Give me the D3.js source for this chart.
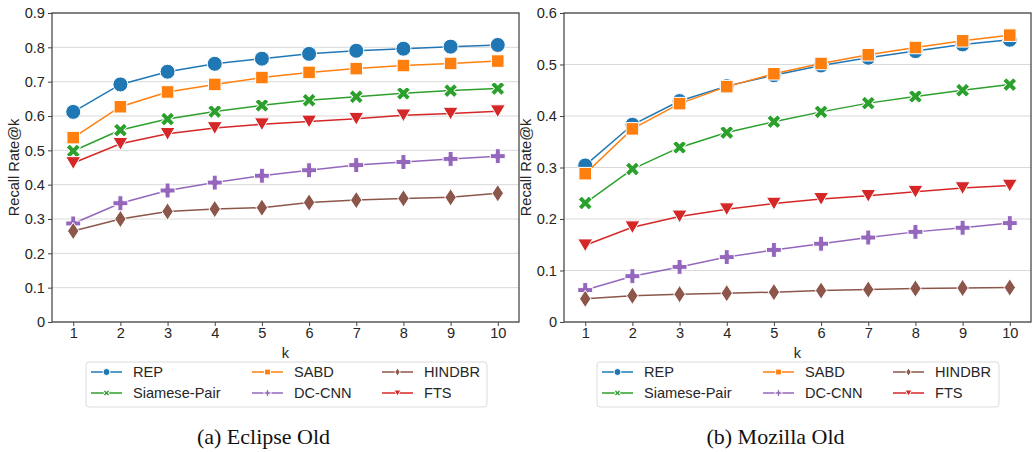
<!DOCTYPE html>
<html>
<head>
<meta charset="utf-8">
<script src="https://cdn.jsdelivr.net/npm/d3@7"></script>
<style>
  body { margin: 0; background: white; }
  svg { display: block; }
  .tick text { font-family: "Liberation Sans", Arial, sans-serif; font-size: 14.6px; fill: #262626; }
</style>
</head>
<body>
<svg id="chart" width="1032" height="452"></svg>
<script>
// k values on x axis
var kValues = [1, 2, 3, 4, 5, 6, 7, 8, 9, 10];

// legend order (column-major, 2 rows)
var seriesNames = ["REP", "Siamese-Pair", "SABD", "DC-CNN", "HINDBR", "FTS"];
var seriesColors = ["#1f77b4", "#2ca02c", "#ff7f0e", "#9467bd", "#8c564b", "#d62728"];
var seriesMarkers = ["circle", "x", "square", "plus", "thindiamond", "tridown"];

// Eclipse Old
var eclipseREP = [0.612, 0.692, 0.729, 0.752, 0.767, 0.781, 0.790, 0.796, 0.802, 0.807];
var eclipseSiamese = [0.498, 0.559, 0.591, 0.613, 0.631, 0.646, 0.656, 0.666, 0.674, 0.680];
var eclipseSABD = [0.537, 0.627, 0.670, 0.692, 0.712, 0.727, 0.738, 0.747, 0.753, 0.760];
var eclipseDCCNN = [0.287, 0.346, 0.383, 0.406, 0.426, 0.442, 0.457, 0.466, 0.475, 0.483];
var eclipseHINDBR = [0.265, 0.300, 0.322, 0.329, 0.333, 0.348, 0.355, 0.360, 0.363, 0.375];
var eclipseFTS = [0.463, 0.519, 0.548, 0.565, 0.576, 0.584, 0.592, 0.602, 0.607, 0.614];

// Mozilla Old
var mozillaREP = [0.304, 0.383, 0.429, 0.458, 0.479, 0.498, 0.513, 0.526, 0.539, 0.548];
var mozillaSiamese = [0.231, 0.297, 0.339, 0.368, 0.389, 0.408, 0.425, 0.438, 0.450, 0.461];
var mozillaSABD = [0.288, 0.375, 0.424, 0.457, 0.482, 0.502, 0.519, 0.533, 0.546, 0.557];
var mozillaDCCNN = [0.062, 0.089, 0.107, 0.126, 0.140, 0.152, 0.164, 0.175, 0.183, 0.192];
var mozillaHINDBR = [0.045, 0.051, 0.054, 0.056, 0.058, 0.061, 0.063, 0.065, 0.066, 0.067];
var mozillaFTS = [0.149, 0.184, 0.205, 0.219, 0.230, 0.239, 0.245, 0.253, 0.260, 0.265];

var eclipseTicks = [0, 0.1, 0.2, 0.3, 0.4, 0.5, 0.6, 0.7, 0.8, 0.9];
var mozillaTicks = [0, 0.1, 0.2, 0.3, 0.4, 0.5, 0.6];

var panels = [
  { left: 52, right: 519, yMax: 0.9, ticks: eclipseTicks, caption: "(a) Eclipse Old",
    series: [eclipseREP, eclipseSiamese, eclipseSABD, eclipseDCCNN, eclipseHINDBR, eclipseFTS],
    legend: { x: 86, w: 401 } },
  { left: 564, right: 1031, yMax: 0.6, ticks: mozillaTicks, caption: "(b) Mozilla Old",
    series: [mozillaREP, mozillaSiamese, mozillaSABD, mozillaDCCNN, mozillaHINDBR, mozillaFTS],
    legend: { x: 597, w: 402 } }
];

var plotTop = 13, plotBottom = 322;
var legendCols = [5, 166, 296];
var svg = d3.select("#chart");

// marker shape paths, centered at 0,0
function markerPath(type, s) {
  if (type == "circle") return d3.symbol(d3.symbolCircle, Math.PI * s * s / 4)();
  if (type == "square") return d3.symbol(d3.symbolSquare, s * s * 0.7)();
  if (type == "plus") return d3.symbol(d3.symbolCross, s * s * 0.55)();
  if (type == "x") return d3.symbol(d3.symbolCross, s * s * 0.55)();
  if (type == "thindiamond") {
    var h = s * 0.58, w = s * 0.38;
    return "M0," + (-h) + "L" + w + ",0L0," + h + "L" + (-w) + ",0Z";
  }
  if (type == "tridown") {
    var a = s * 0.5;
    return "M" + (-a) + "," + (-a * 0.85) + "L" + a + "," + (-a * 0.85) + "L0," + (a * 0.85) + "Z";
  }
}

function drawMarker(g, type, color, s, cx, cy) {
  g.append("path")
    .attr("d", markerPath(type, s))
    .attr("transform", "translate(" + cx + "," + cy + ")" + (type == "x" ? " rotate(45)" : ""))
    .attr("fill", color)
    .attr("stroke", "white")
    .attr("stroke-width", 1);
}

panels.forEach(function (p) {
  var x = d3.scaleLinear().domain([0.55, 10.45]).range([p.left, p.right]);
  var y = d3.scaleLinear().domain([0, p.yMax]).range([plotBottom, plotTop]);

  var g = svg.append("g");

  // grid
  g.append("g")
    .selectAll("line")
    .data(p.ticks)
    .join("line")
    .attr("x1", p.left).attr("x2", p.right)
    .attr("y1", (d) => y(d)).attr("y2", (d) => y(d))
    .attr("stroke", "#d9d9d9")
    .attr("stroke-width", 1);

  // axes
  g.append("g")
    .attr("transform", "translate(" + p.left + ",0)")
    .call(d3.axisLeft(y).tickValues(p.ticks).tickFormat(d3.format("~g")).tickSize(4).tickPadding(3))
    .call((a) => a.select(".domain").remove())
    .call((a) => a.selectAll(".tick line").attr("stroke", "#444"));

  g.append("g")
    .attr("transform", "translate(0," + plotBottom + ")")
    .call(d3.axisBottom(x).tickValues(kValues).tickSize(4).tickPadding(2))
    .call((a) => a.select(".domain").remove())
    .call((a) => a.selectAll(".tick line").attr("stroke", "#444"));

  // frame
  g.append("rect")
    .attr("x", p.left).attr("y", plotTop)
    .attr("width", p.right - p.left).attr("height", plotBottom - plotTop)
    .attr("fill", "none")
    .attr("stroke", "#444")
    .attr("stroke-width", 1.25);

  // lines + markers
  var line = d3.line().x((d, i) => x(kValues[i])).y((d) => y(d));
  p.series.forEach(function (vals, si) {
    g.append("path")
      .attr("d", line(vals))
      .attr("fill", "none")
      .attr("stroke", seriesColors[si])
      .attr("stroke-width", 1.5);
    var mg = g.append("g");
    vals.forEach(function (v, i) {
      drawMarker(mg, seriesMarkers[si], seriesColors[si], 15, x(kValues[i]), y(v));
    });
  });

  // axis labels
  g.append("text")
    .attr("x", (p.left + p.right) / 2).attr("y", 358)
    .attr("text-anchor", "middle")
    .style("font-family", "Liberation Sans, Arial, sans-serif")
    .style("font-size", "14.6px").style("fill", "#262626")
    .text("k");

  g.append("text")
    .attr("transform", "translate(" + (p.left - 33) + "," + ((plotTop + plotBottom) / 2) + ") rotate(-90)")
    .attr("text-anchor", "middle")
    .style("font-family", "Liberation Sans, Arial, sans-serif")
    .style("font-size", "14.6px").style("fill", "#262626")
    .text("Recall Rate@k");

  // legend
  var lg = g.append("g").attr("transform", "translate(" + p.legend.x + ",362)");
  lg.append("rect")
    .attr("width", p.legend.w).attr("height", 45)
    .attr("rx", 3)
    .attr("fill", "white")
    .attr("stroke", "#dcdcdc");
  seriesNames.forEach(function (name, i) {
    var col = Math.floor(i / 2), row = i % 2;
    var lx = legendCols[col], ly = 10 + row * 21;
    lg.append("line")
      .attr("x1", lx).attr("x2", lx + 31)
      .attr("y1", ly).attr("y2", ly)
      .attr("stroke", seriesColors[i]).attr("stroke-width", 1.5);
    drawMarker(lg, seriesMarkers[i], seriesColors[i], 7, lx + 15.5, ly);
    lg.append("text")
      .attr("x", lx + 42).attr("y", ly + 5)
      .style("font-family", "Liberation Sans, Arial, sans-serif")
      .style("font-size", "14.6px").style("fill", "#262626")
      .text(name);
  });

  // caption
  g.append("text")
    .attr("x", (p.left + p.right) / 2 - 22).attr("y", 444)
    .attr("text-anchor", "middle")
    .style("font-family", "Liberation Serif, serif")
    .style("font-size", "22px").style("fill", "#111")
    .text(p.caption);
});
</script>
</body>
</html>
